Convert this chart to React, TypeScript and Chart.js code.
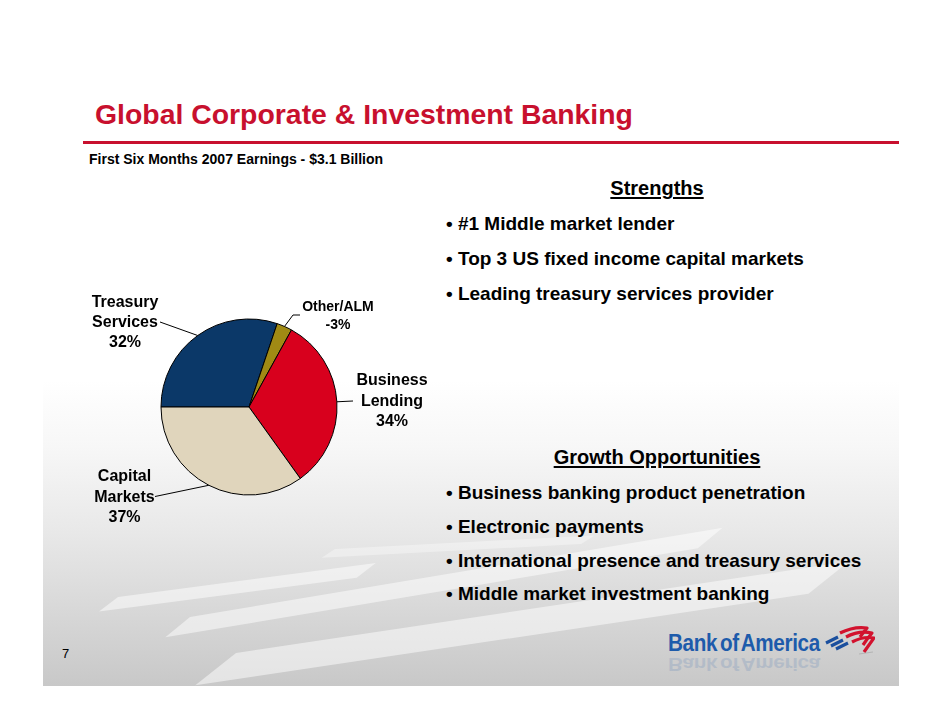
import React, { useEffect, useRef } from 'react';
import { Chart, registerables } from 'chart.js';

Chart.register(...registerables);

// ---- Data ----
const segments = ['Treasury Services', 'Other/ALM', 'Business Lending', 'Capital Markets'];
const segmentLines = [['Treasury', 'Services'], ['Other/ALM'], ['Business', 'Lending'], ['Capital', 'Markets']];
const earningsShare = [32, -3, 34, 37];
const segmentColors = ['#0b3868', '#a08a14', '#d8001d', '#e0d5bc'];

const titleText = 'Global Corporate & Investment Banking';
const subtitleText = 'First Six Months 2007 Earnings - $3.1 Billion';
const strengthsTitle = 'Strengths';
const strengths = ['#1 Middle market lender', 'Top 3 US fixed income capital markets', 'Leading treasury services provider'];
const growthTitle = 'Growth Opportunities';
const growth = [
  'Business banking product penetration',
  'Electronic payments',
  'International presence and treasury services',
  'Middle market investment banking',
];
const pageNumber = '7';
const brandName = 'Bank of America';

// ---- Layout (page coordinates) ----
const CANVAS_LEFT = 54;
const CANVAS_TOP = 277;
const CANVAS_W = 390;
const CANVAS_H = 260;
const FONT = '"Liberation Sans", Arial, Helvetica, sans-serif';

const labelLayout = [
  { x: 125, baselines: [307, 327, 347], size: 16, anchor: [160, 322], elbow: null as null | number[] },
  { x: 338, baselines: [311, 329], size: 14, anchor: [300, 315], elbow: [293, 315] },
  { x: 392, baselines: [385, 405.5, 426], size: 16, anchor: [353, 401], elbow: null },
  { x: 124.5, baselines: [481, 501.5, 522], size: 16, anchor: [155, 496.5], elbow: null },
];

const labelPlugin = {
  id: 'sliceLabels',
  afterDraw(chart: any) {
    const ctx = chart.ctx;
    const meta = chart.getDatasetMeta(0);
    ctx.save();
    meta.data.forEach((arc: any, i: number) => {
      const p = arc.getProps(['x', 'y', 'startAngle', 'endAngle', 'outerRadius'], true);
      const mid = (p.startAngle + p.endAngle) / 2;
      const ex = p.x + Math.cos(mid) * p.outerRadius;
      const ey = p.y + Math.sin(mid) * p.outerRadius;
      const lay = labelLayout[i];
      const ax = lay.anchor[0] - CANVAS_LEFT;
      const ay = lay.anchor[1] - CANVAS_TOP;
      ctx.beginPath();
      ctx.strokeStyle = '#000';
      ctx.lineWidth = 1;
      ctx.moveTo(ex, ey);
      if (lay.elbow) ctx.lineTo(lay.elbow[0] - CANVAS_LEFT, lay.elbow[1] - CANVAS_TOP);
      ctx.lineTo(ax, ay);
      ctx.stroke();
      const lines = [...segmentLines[i], `${earningsShare[i]}%`];
      ctx.fillStyle = '#000';
      ctx.font = `bold ${lay.size}px ${FONT}`;
      ctx.textAlign = 'center';
      ctx.textBaseline = 'alphabetic';
      lines.forEach((t, k) => {
        ctx.fillText(t, lay.x - CANVAS_LEFT, lay.baselines[k] - CANVAS_TOP);
      });
    });
    ctx.restore();
  },
};

function PieChart() {
  const ref = useRef<HTMLCanvasElement | null>(null);
  useEffect(() => {
    if (!ref.current) return;
    const chart = new Chart(ref.current, {
      type: 'pie',
      data: {
        labels: segments,
        datasets: [
          {
            data: earningsShare.map((v) => Math.abs(v)),
            backgroundColor: segmentColors,
            borderColor: '#000',
            borderWidth: 1,
            radius: 88,
          } as any,
        ],
      },
      options: {
        responsive: false,
        animation: false,
        rotation: 270,
        radius: 88,
        layout: { padding: 0 },
        events: [],
        plugins: { legend: { display: false }, tooltip: { enabled: false } },
      } as any,
      plugins: [labelPlugin],
    });
    return () => chart.destroy();
  }, []);
  return (
    <canvas
      ref={ref}
      width={CANVAS_W}
      height={CANVAS_H}
      style={{ position: 'absolute', left: CANVAS_LEFT, top: CANVAS_TOP, width: CANVAS_W, height: CANVAS_H }}
    />
  );
}

function Txt(props: {
  x: number;
  baseline: number;
  size: number;
  bold?: boolean;
  color?: string;
  center?: boolean;
  underline?: boolean;
  children: React.ReactNode;
}) {
  const { x, baseline, size, bold = true, color = '#000', center, underline, children } = props;
  return (
    <div
      style={{
        position: 'absolute',
        left: center ? x - 300 : x,
        width: center ? 600 : undefined,
        textAlign: center ? 'center' : 'left',
        top: baseline - 0.8465 * size,
        fontFamily: FONT,
        fontSize: size,
        lineHeight: `${size}px`,
        fontWeight: bold ? 700 : 400,
        color,
        whiteSpace: 'nowrap',
        textDecoration: underline ? 'underline' : 'none',
        textUnderlineOffset: 2,
      }}
    >
      {children}
    </div>
  );
}

// decorative light stripe (page coords of its left tip)
function Band(props: { x: number; y: number; len: number; th: number; op: number; ang: number }) {
  return (
    <div
      style={{
        position: 'absolute',
        left: props.x - 43,
        top: props.y - 380,
        width: props.len,
        height: props.th,
        background: `rgba(255,255,255,${props.op})`,
        transformOrigin: '0 0',
        transform: `rotate(${props.ang}deg) skewX(-60deg)`,
      }}
    />
  );
}

function Logo() {
  const textStyle: React.CSSProperties = {
    position: 'absolute',
    left: 2,
    fontFamily: FONT,
    fontWeight: 700,
    fontSize: 24,
    lineHeight: '24px',
    color: '#1d5bab',
    letterSpacing: -0.4,
    wordSpacing: -3,
    whiteSpace: 'nowrap',
    transformOrigin: '0 0',
  };
  return (
    <div style={{ position: 'absolute', left: 666, top: 622, width: 215, height: 50 }}>
      <div style={{ ...textStyle, top: 9.2, transform: 'scaleX(0.86)' }}>{brandName}</div>
      <div
        aria-hidden="true"
        style={{
          ...textStyle,
          top: 30,
          transformOrigin: '0 50%',
          transform: 'scaleX(0.86) scaleY(-0.75)',
          opacity: 0.14,
        }}
      >
        {brandName}
      </div>
      <svg style={{ position: 'absolute', left: 157, top: 3 }} width="52" height="32" viewBox="0 0 52 32">
        <g fill="none" strokeLinecap="butt" strokeLinejoin="round">
          <path d="M3 18 L15 12" stroke="#1b4f9e" strokeWidth="3.2" />
          <path d="M8 21 L20 15" stroke="#1b4f9e" strokeWidth="3.2" />
          <path d="M13 24 L25 18" stroke="#1b4f9e" strokeWidth="3.2" />
          <path d="M17 8 Q31 1 44 3 Q40 8 37 12" stroke="#d2122e" strokeWidth="3.2" />
          <path d="M23 12 Q36 5 49 8 Q44 14 40 20" stroke="#d2122e" strokeWidth="3.2" />
          <path d="M29 17 Q40 11 51 13 Q46 20 41 27" stroke="#d2122e" strokeWidth="3.2" />
        </g>
        <path d="M36 29 L50 27" stroke="#9a9a9a" strokeWidth="1" opacity="0.5" />
      </svg>
    </div>
  );
}

export default function App() {
  return (
    <div style={{ position: 'absolute', left: 0, top: 0, width: 942, height: 728, background: '#fff', overflow: 'hidden' }}>
      {/* slide background panel */}
      <div
        style={{
          position: 'absolute',
          left: 43,
          top: 380,
          width: 856,
          height: 306,
          overflow: 'hidden',
          background:
            'linear-gradient(to bottom, rgba(255,255,255,1) 0%, #f7f7f7 22%, #e8e8e8 50%, #d6d6d6 78%, #c8c8c8 100%)',
        }}
      >
        <Band x={118} y={597} len={260} th={12} op={0.5} ang={-7.5} />
        <Band x={190} y={617} len={540} th={16} op={0.5} ang={-9.5} />
        <Band x={236} y={653} len={620} th={26} op={0.5} ang={-8.5} />
        <Band x={335} y={549} len={260} th={8} op={0.35} ang={-3} />
      </div>

      <Txt x={95} baseline={124} size={28.4} color="#c8102e">
        {titleText}
      </Txt>
      <div style={{ position: 'absolute', left: 83, top: 141, width: 816, height: 3, background: '#c8102e' }} />
      <Txt x={89} baseline={164} size={14}>
        {subtitleText}
      </Txt>

      <Txt x={657} baseline={195} size={20} center underline>
        {strengthsTitle}
      </Txt>
      {strengths.map((s, i) => (
        <Txt key={s} x={446} baseline={230 + i * 35} size={19}>
          {'\u2022 ' + s}
        </Txt>
      ))}

      <Txt x={657} baseline={464} size={20} center underline>
        {growthTitle}
      </Txt>
      {growth.map((s, i) => (
        <Txt key={s} x={446} baseline={499 + i * 33.8} size={19}>
          {'\u2022 ' + s}
        </Txt>
      ))}

      <Txt x={62} baseline={658} size={13} bold={false}>
        {pageNumber}
      </Txt>

      <Logo />
      <PieChart />
    </div>
  );
}
